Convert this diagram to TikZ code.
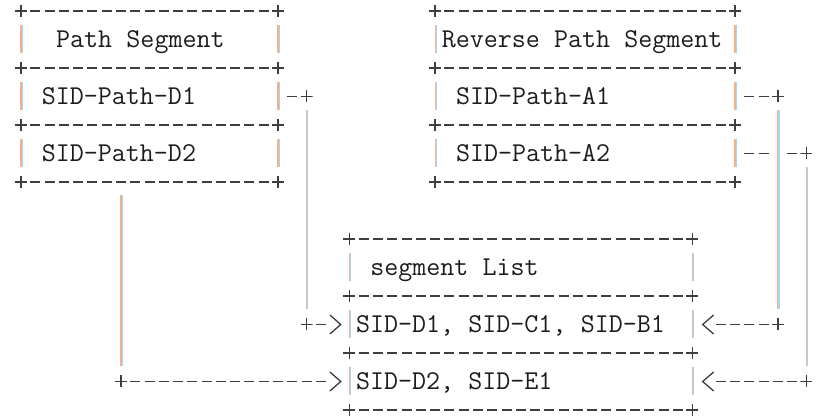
\documentclass[tikz,border=0pt]{standalone}
\usepackage{xcolor}
\usepackage{tikz}
\usetikzlibrary{calc}

\definecolor{barorange}{RGB}{246,176,138}
\definecolor{barblue}{RGB}{166,214,242}
\definecolor{inkgray}{RGB}{62,62,62}
\definecolor{textink}{RGB}{28,28,28}
\newcommand{\cellfont}{\fontsize{13.6pt}{16pt}\selectfont\ttfamily
  \fontdimen2\font=7.14pt \fontdimen3\font=0pt \fontdimen4\font=0pt \fontdimen7\font=0pt}

\tikzset{
  rule/.style={draw=inkgray, line width=0.65pt, dash pattern=on 5pt off 2.14pt, dash phase=2.5pt},
  link/.style={draw=inkgray, line width=0.65pt, dash pattern=on 5pt off 2.14pt},
  chev/.style={draw=inkgray, line width=0.65pt},
  pluspen/.style={draw=inkgray, line width=0.65pt},
  vbar/.style={draw=barorange, line width=0.55pt, postaction={draw=barblue, line width=0.55pt, transform canvas={xshift=0.55pt}}},
  plusmark/.pic={\draw[pluspen] (-6,0) -- (6,0) (0,-6) -- (0,6);},
  joint/.style={inner sep=0pt, outer sep=0pt, minimum size=6pt,
    path picture={\draw[pluspen] (path picture bounding box.west) -- (path picture bounding box.east)
      (path picture bounding box.north) -- (path picture bounding box.south);}},
  cell/.style={anchor=west, text width=#1, inner xsep=3.32pt, inner ysep=0pt, outer sep=0pt,
    minimum height=14pt, text height=8.3pt, text depth=0pt, align=flush left, font=\cellfont, text=textink}
}

\begin{document}
\begin{tikzpicture}[x=0.5pt,y=-0.5pt]
  \useasboundingbox (0,0) rectangle (819,416);

  \foreach \y in {11,68,125,182} {
    \draw[rule] (21,\y) -- (278.04,\y);
    \pic at (21,\y) {plusmark};
    \pic at (278.04,\y) {plusmark};
    \draw[rule] (435.12,\y) -- (735,\y);
    \pic at (435.12,\y) {plusmark};
    \pic at (735,\y) {plusmark};
  }
  \foreach \y in {239,296,353,410} {
    \draw[rule] (349.44,\y) -- (692.16,\y);
    \pic at (349.44,\y) {plusmark};
    \pic at (692.16,\y) {plusmark};
  }

  \node[cell=121.88pt] (ps) at (21,39.5) {\ \ Path Segment};
  \node[cell=121.88pt] (pd1) at (21,96.5) {\ SID-Path-D1};
  \node[cell=121.88pt] (pd2) at (21,153.5) {\ SID-Path-D2};
  \node[cell=143.3pt] (rps) at (435.12,39.5) {Reverse Path Segment};
  \node[cell=143.3pt] (pa1) at (435.12,96.5) {\ SID-Path-A1};
  \node[cell=143.3pt] (pa2) at (435.12,153.5) {\ SID-Path-A2};
  \node[cell=164.72pt] (sl) at (349.44,267.5) {\ segment List};
  \node[cell=164.72pt] (sd1) at (349.44,324.5) {SID-D1, SID-C1, SID-B1};
  \node[cell=164.72pt] (sd2) at (349.44,381.5) {SID-D2, SID-E1};

  \foreach \n in {ps,pd1,pd2,rps,pa1,pa2,sl,sd1,sd2}
    \draw[vbar] (\n.north west) -- (\n.south west) (\n.north east) -- (\n.south east);

  \node[joint] (j1a) at (306.6,96.5) {};
  \node[joint] (j1b) at (306.6,324.5) {};
  \node[joint] (j2) at (120.96,381.5) {};
  \node[joint] (j3a) at (777.84,96.5) {};
  \node[joint] (j3b) at (777.84,324.5) {};
  \node[joint] (j4a) at (806.4,153.5) {};
  \node[joint] (j4b) at (806.4,381.5) {};

  \draw[link] ([xshift=4.64pt]pd1.east) -- (j1a.west);
  \draw[vbar] ([yshift=-3.75pt]j1a.south) -- ([yshift=4.75pt]j1b.north);
  \draw[link] ([xshift=1.64pt]j1b.east) -- ([xshift=-10.5pt]sd1.west);
  \draw[chev] ([xshift=-9.75pt,yshift=4.75pt]sd1.west) -- ([xshift=-4.35pt]sd1.west) -- ([xshift=-9.75pt,yshift=-4.75pt]sd1.west);

  \draw[vbar] ($(j2 |- pd2.south)+(0,28)$) -- ([yshift=4.75pt]j2.north);
  \draw[link] ([xshift=1.64pt]j2.east) -- ([xshift=-10.5pt]sd2.west);
  \draw[chev] ([xshift=-9.75pt,yshift=4.75pt]sd2.west) -- ([xshift=-4.35pt]sd2.west) -- ([xshift=-9.75pt,yshift=-4.75pt]sd2.west);

  \draw[link] ([xshift=4.64pt]pa1.east) -- (j3a.west);
  \draw[vbar] ([yshift=-3.75pt]j3a.south) -- ([yshift=4.75pt]j3b.north);
  \draw[link] ([xshift=-1.64pt]j3b.west) -- ([xshift=10.5pt]sd1.east);
  \draw[chev] ([xshift=10.75pt,yshift=4.75pt]sd1.east) -- ([xshift=5.25pt]sd1.east) -- ([xshift=10.75pt,yshift=-4.75pt]sd1.east);

  \draw[link, dash pattern=on 5pt off 2.14pt on 5pt off 9.28pt] ([xshift=4.64pt]pa2.east) -- (j4a.west);
  \draw[vbar] ([yshift=-3.75pt]j4a.south) -- ([yshift=4.75pt]j4b.north);
  \draw[link] ([xshift=-1.64pt]j4b.west) -- ([xshift=10.5pt]sd2.east);
  \draw[chev] ([xshift=10.75pt,yshift=4.75pt]sd2.east) -- ([xshift=5.25pt]sd2.east) -- ([xshift=10.75pt,yshift=-4.75pt]sd2.east);
\end{tikzpicture}
\end{document}
